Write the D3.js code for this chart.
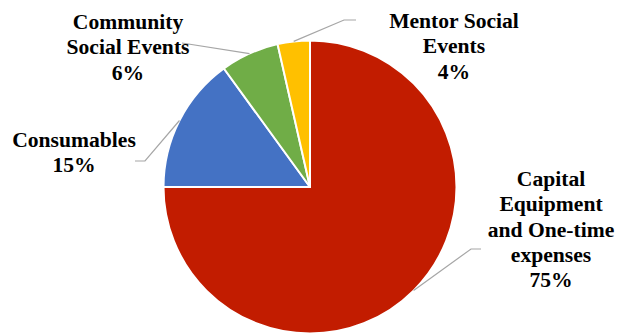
<html>
<head>
<script src="https://d3js.org/d3.v7.min.js"></script>
</head>
<body style="margin:0">
<script>
// data (clockwise from 12 o'clock)
var categories = ["Capital\nEquipment\nand One-time\nexpenses", "Consumables", "Community\nSocial Events", "Mentor Social\nEvents"];
var values = [75, 15, 6.45, 3.55];
var colors = ["#c21c00", "#4472c4", "#70ad47", "#ffc000"];

// layout
var W = 617, H = 333;
var cx = 310, cy = 187, R = 146.5;
var lineH = 25.3;
var FONT = "'Liberation Serif'";
// label text anchor (centre x, first baseline y) and leader elbow / end point
var labelPos = [
  { x: 551, y: 186, elbow: [471, 249], end: [481, 249] },
  { x: 74, y: 147, elbow: [145, 161], end: [135, 161] },
  { x: 128, y: 29, elbow: null, end: [182, 43] },
  { x: 454, y: 28, elbow: [344, 20], end: [356, 20] }
];

var svg = d3.select("body").append("svg").attr("width", W).attr("height", H)
  .style("display", "block");
var g = svg.append("g").attr("transform", "translate(" + cx + "," + cy + ")");

var pie = d3.pie().sort(null).value(function(d){ return d; });
var arcs = pie(values);
var arc = d3.arc().innerRadius(0).outerRadius(R);
var edge = d3.arc().innerRadius(R).outerRadius(R);

g.selectAll("path.slice").data(arcs).enter().append("path")
  .attr("class", "slice")
  .attr("d", arc)
  .attr("fill", function(d, i){ return colors[i]; })
  .attr("stroke", "#fff")
  .attr("stroke-width", 2)
  .attr("stroke-linejoin", "round");

var fmt = d3.format(".0%");
var total = d3.sum(values);

arcs.forEach(function(a, i) {
  var p = edge.centroid(a);
  var pos = labelPos[i];
  var pts = [[cx + p[0], cy + p[1]]];
  if (pos.elbow) pts.push(pos.elbow);
  pts.push(pos.end);
  svg.append("path")
    .attr("d", d3.line()(pts))
    .attr("fill", "none")
    .attr("stroke", "#a6a6a6")
    .attr("stroke-width", 1.2);

  var lines = categories[i].split("\n").concat([fmt(values[i] / total)]);
  var t = svg.append("text")
    .attr("x", pos.x).attr("y", pos.y)
    .style("font-family", FONT)
    .style("font-weight", "bold")
    .style("font-size", "21.6px")
    .attr("text-anchor", "middle");
  lines.forEach(function(s, k) {
    t.append("tspan")
      .attr("x", pos.x).attr("y", pos.y + k * lineH).text(s);
  });
});
</script>
</body>
</html>
